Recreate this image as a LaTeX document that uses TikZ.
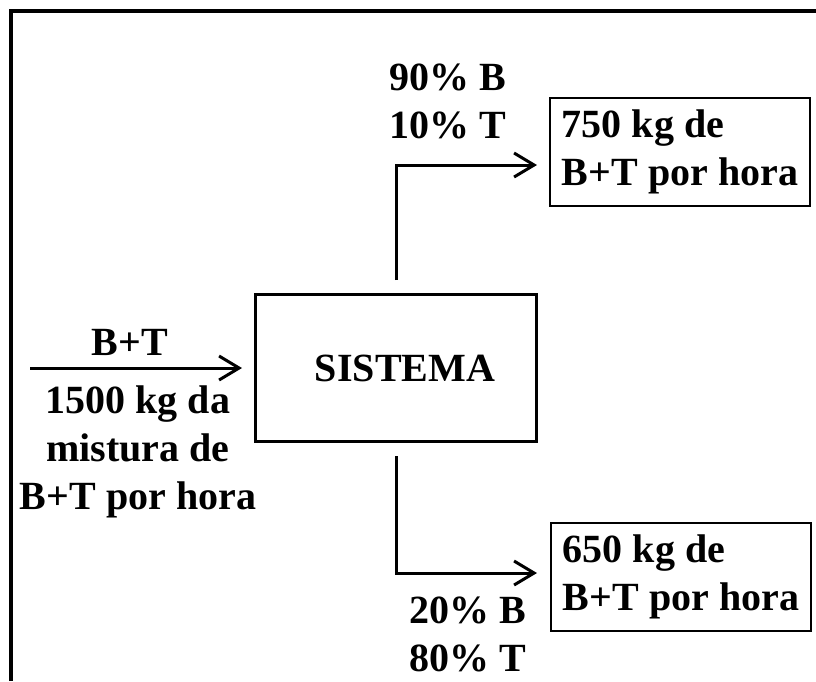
\documentclass[tikz,border=0pt]{standalone}
\usepackage{fontspec}
\setmainfont{Liberation Serif}
\usetikzlibrary{arrows.meta}
\tikzset{
  flow/.style={line width=3pt,-{Straight Barb[length=20pt,width=24pt]}},
  outbox/.style={draw,line width=2pt,align=left,inner xsep=9pt,
    minimum width=260,minimum height=108},
  txt/.style={font=\fontsize{40}{48}\selectfont\bfseries}
}
\begin{document}
\begin{tikzpicture}[x=1pt,y=-1pt,txt]
  \useasboundingbox (0,0) rectangle (816,681);
  \draw[line width=3.5pt] (11,681) -- (11,11) -- (816,11);
  \node[draw,line width=3pt,minimum width=281,minimum height=147] (sys) at (396,368) {\hspace{18pt}SISTEMA};
  \node[outbox] (topout) at (680,152) {750 kg de\\B+T por hora};
  \node[outbox] (botout) at (681,577) {650 kg de\\B+T por hora};
  \coordinate (instart) at (30,368);
  \coordinate (toptip) at (537,165);
  \coordinate (bottip) at (537,573);
  % feed
  \draw[flow] (instart) -- ([xshift=-12]sys.west);
  \node (infeed) at (130,342) {B+T};
  \node[align=center] (indesc) at (138,452) {1500 kg da\\mistura de\\B+T por hora};
  % products
  \draw[flow] ([yshift=13]sys.north) |- (toptip);
  \draw[flow] ([yshift=-13]sys.south) |- (bottip);
  \node[align=left,anchor=west] (topcomp) at (386,101) {90\% B\\10\% T};
  \node[align=left,anchor=west] (botcomp) at (406,634) {20\% B\\80\% T};
\end{tikzpicture}
\end{document}
